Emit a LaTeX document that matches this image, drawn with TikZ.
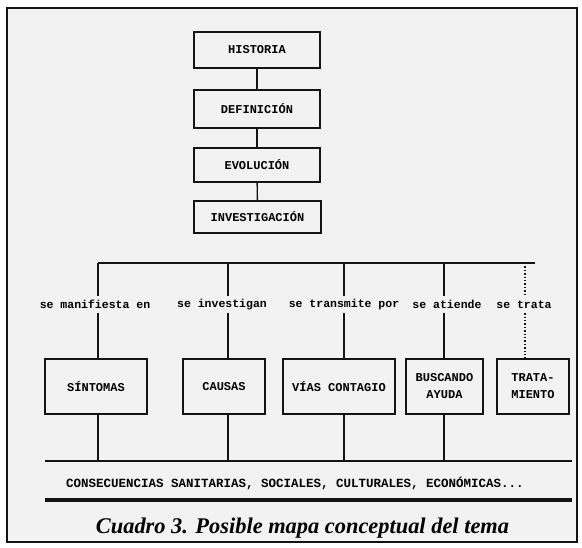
\documentclass[tikz,border=0pt]{standalone}
\usepackage{fontspec}
\setmonofont{Liberation Mono}
\newfontfamily\captionfont{Liberation Serif}
\usetikzlibrary{positioning}
\definecolor{fondo}{RGB}{242,242,242}
\definecolor{trazo}{RGB}{20,20,20}

\begin{document}
\begin{tikzpicture}[x=1pt, y=-1pt,
    caja/.style={draw=trazo, line width=1.4pt, inner sep=0pt, align=center, font=\fontsize{12}{17}\selectfont\ttfamily\bfseries},
    enlace/.style={inner sep=0pt, minimum height=17pt, font=\fontsize{11.5}{12}\selectfont\ttfamily\bfseries},
    linea/.style={draw=trazo, line width=1.4pt}]
    \useasboundingbox (0,0) rectangle (582,548);
    % Marco
    \fill[white] (0,0) rectangle (582,548);
    \draw[fill=fondo, draw=trazo, line width=1.3pt] (7,8) rectangle (577,542);
    \draw[trazo, line width=2pt] (7,8) -- (7,542);

    % Bloque superior
    \node[caja, minimum width=126pt, minimum height=36pt] (hist) at (257,50) {HISTORIA};
    \node[caja, minimum width=126pt, minimum height=38pt] (def) at (257,109) {DEFINICIÓN};
    \node[caja, minimum width=126pt, minimum height=34pt] (evol) at (257,165) {EVOLUCIÓN};
    \node[caja, minimum width=127pt, minimum height=32pt] (inv) at (257.5,217) {INVESTIGACIÓN};

    \draw[linea] (hist) -- (def);
    \draw[linea] (def) -- (evol);
    \draw[linea] (evol) -- (inv);

    % Barra de ramas
    \coordinate (b1) at (98,263);
    \coordinate (b2) at (228,263);
    \coordinate (b3) at (344,263);
    \coordinate (b4) at (444,263);
    \coordinate (b5) at (525,263);
    \coordinate (bfin) at (535,263);
    \draw[linea] (b1) -- (bfin);

    % Enlaces
    \node[enlace] (e1) at (95,304.5) {se manifiesta en};
    \node[enlace] (e2) at (222,304.5) {se investigan};
    \node[enlace] (e3) at (344,304.5) {se transmite por};
    \node[enlace] (e4) at (447,304.5) {se atiende};
    \node[enlace] (e5) at (524,304.5) {se trata};

    % Conceptos
    \node[caja, minimum width=102pt, minimum height=55pt] (sint) at (96,386.5) {SÍNTOMAS};
    \node[caja, minimum width=82pt, minimum height=55pt] (caus) at (224,386.5) {CAUSAS};
    \node[caja, minimum width=112pt, minimum height=55pt] (vias) at (339,386.5) {VÍAS CONTAGIO};
    \node[caja, minimum width=77pt, minimum height=55pt] (ayud) at (444.5,386.5) {BUSCANDO\\AYUDA};
    \node[caja, minimum width=72pt, minimum height=55pt] (trat) at (533,386.5) {TRATA-\\MIENTO};

    \draw[linea] (b1) -- (b1 |- e1.north);
    \draw[linea] (b1 |- e1.south) -- (b1 |- sint.north);
    \draw[linea] (b2) -- (b2 |- e2.north);
    \draw[linea] (b2 |- e2.south) -- (b2 |- caus.north);
    \draw[linea] (b3) -- (b3 |- e3.north);
    \draw[linea] (b3 |- e3.south) -- (b3 |- vias.north);
    \draw[linea] (b4) -- (b4 |- e4.north);
    \draw[linea] (b4 |- e4.south) -- (b4 |- ayud.north);
    \draw[linea, dotted] (b5) -- (b5 |- e5.north);
    \draw[linea, dotted] (b5 |- e5.south) -- (b5 |- trat.north);

    % Consecuencias
    \coordinate (cL) at (45,461);
    \coordinate (cR) at (572,461);
    \draw[linea] (cL) -- (cR);
    \node[font=\fontsize{12.5}{13}\selectfont\ttfamily\bfseries] (cons) at (295,483) {CONSECUENCIAS SANITARIAS, SOCIALES, CULTURALES, ECONÓMICAS...};
    \draw[trazo, line width=3.5pt] (45,500) -- (572,500);

    \draw[linea] (sint.south -| b1) -- (b1 |- cL);
    \draw[linea] (caus.south -| b2) -- (b2 |- cL);
    \draw[linea] (vias.south -| b3) -- (b3 |- cL);
    \draw[linea] (ayud.south -| b4) -- (b4 |- cL);

    \node (titulo) at (302.5,528) {\captionfont\bfseries\itshape\fontsize{22.4}{24}\selectfont Cuadro 3. Posible mapa conceptual del tema};
\end{tikzpicture}
\end{document}
